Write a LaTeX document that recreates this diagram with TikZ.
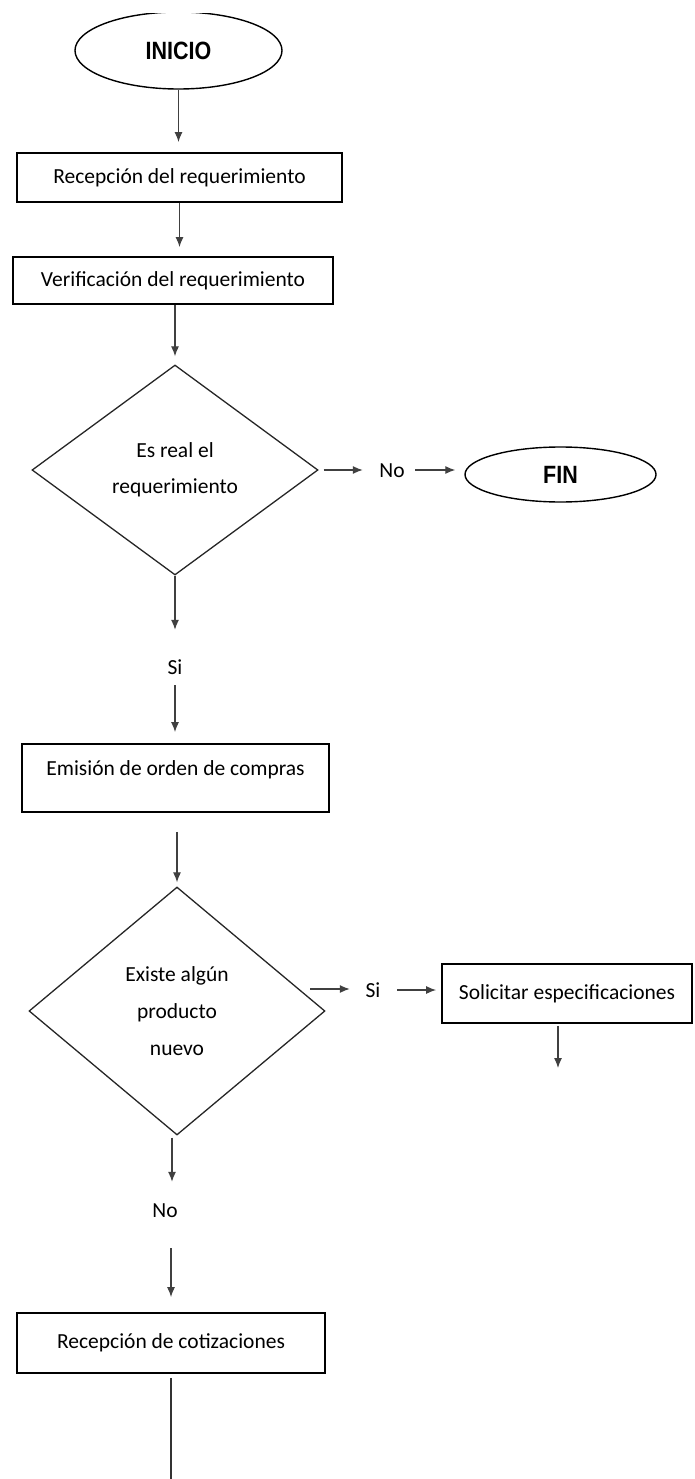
\documentclass[tikz,border=0pt]{standalone}
\usepackage{fontspec}
\usepackage{graphicx}
\setmainfont{Carlito}
\newfontfamily\termfont{Liberation Sans}
\usetikzlibrary{shapes.geometric,arrows.meta}
\begin{document}
\begin{tikzpicture}[x=1pt,y=-1pt,
  font=\fontsize{21.5}{36}\selectfont,
  stepbox/.style={draw=black,line width=1.8pt,rectangle,inner sep=0pt,align=center},
  term/.style={draw=black,line width=1.4pt,ellipse,inner sep=0pt,
    font=\termfont\bfseries\fontsize{25}{30}\selectfont},
  decision/.style={draw=black!85,line width=1.3pt,diamond,inner sep=0pt,align=center},
  lbl/.style={inner sep=2pt,text height=14pt,text depth=0pt},
  arr/.style={draw=black!75,line width=1.2pt,-{Latex[length=10pt,width=8pt]}},
  ln/.style={draw=black!80,line width=1.4pt}]
\useasboundingbox (0,0) rectangle (694,1479);

% start terminal, its top edge runs off the sheet
\begin{scope}
  \clip (0,14) rectangle (694,120);
  \node[term,minimum width=207pt,minimum height=77pt] (inicio) at (178.5,50.5)
    {\scalebox{0.86}[1]{INICIO}};
\end{scope}

% process steps and decisions
\node[stepbox,minimum width=325pt,minimum height=49pt] (recep) at (179.5,177.5)
  {Recepción del requerimiento};
\node[stepbox,minimum width=320pt,minimum height=47pt] (verif) at (173,280.5)
  {Verificación del requerimiento};
\node[decision,minimum width=286pt,minimum height=210pt] (real) at (175,470)
  {Es real el\\requerimiento};
\node[lbl] (no1) at (392,470) {No};
\node[term,minimum width=191pt,minimum height=55pt] (fin) at (560.5,474.5)
  {\scalebox{0.86}[1]{FIN}};
\node[lbl] (si1) at (175,667) {Si};
\node[stepbox,minimum width=307pt,minimum height=68pt] (emis) at (175.5,778) {};
\node (emist) at (175.5,770) {Emisión de orden de compras};
\node[decision,minimum width=296pt,minimum height=248pt,
      font=\fontsize{21.5}{37}\selectfont] (nuevo) at (177,1011)
  {Existe algún\\producto\\nuevo};
\coordinate (nuevoout) at (310,989);
\node[lbl] (si2) at (373,990) {Si};
\node[stepbox,minimum width=250pt,minimum height=59pt] (solic) at (567,993.5)
  {Solicitar especificaciones};
\coordinate (solicend) at (558,1068);
\node[lbl] (no2) at (165,1210) {No};
\node[stepbox,minimum width=308pt,minimum height=60pt] (cotiz) at (171,1343)
  {Recepción de cotizaciones};
\coordinate (cotizend) at (170,1479);

% connectors
\draw[arr,shorten >=10pt] (inicio.south) -- (inicio.south |- recep.north);
\draw[arr,shorten >=9pt] (recep.south) -- (recep.south |- verif.north);
\draw[arr,shorten >=8pt] (real.north |- verif.south) -- (real.north);
\draw[arr,shorten <=5pt,shorten >=14.4pt] (real.east) -- (no1.west);
\draw[arr,shorten <=8.4pt,shorten >=9pt] (no1.east) -- (no1.east -| fin.west);
\draw[arr,shorten >=28pt] (real.south) -- (si1.north);
\draw[arr,shorten <=9pt,shorten >=11pt] (si1.south) -- (si1.south |- emis.north);
\draw[arr,shorten <=19pt,shorten >=4pt] (nuevo.north |- emis.south) -- (nuevo.north);
\draw[arr,shorten >=13.6pt] (nuevoout) -- (nuevoout -| si2.west);
\draw[arr,shorten <=14.6pt,shorten >=5pt] (si2.east) -- (si2.east -| solic.west);
\draw[arr,shorten <=2pt] (solic.south -| solicend) -- (solicend);
\draw[arr,shorten <=2pt,shorten >=19pt] ([xshift=-5pt]nuevo.south) -- ([xshift=-5pt]nuevo.south |- no2.north);
\draw[arr,shorten <=29pt,shorten >=15pt] (cotiz.north |- no2.south) -- (cotiz.north);
\draw[ln,shorten <=4pt] (cotiz.south) -- (cotiz.south |- cotizend);
\end{tikzpicture}
\end{document}
